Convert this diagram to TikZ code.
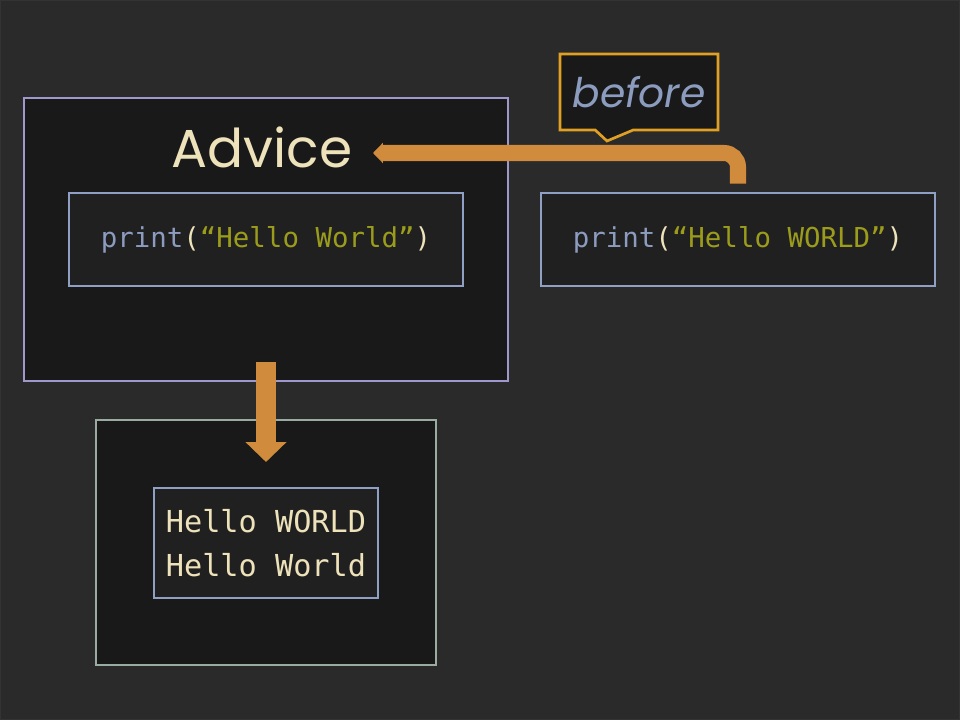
\documentclass[tikz,border=0pt]{standalone}
\usepackage{fontspec}
\setmainfont{Poppins}
\setmonofont{DejaVu Sans Mono}
\usetikzlibrary{arrows.meta,shapes.callouts}

\definecolor{bg}{HTML}{2A2A2A}
\definecolor{panel}{HTML}{191919}
\definecolor{codebg}{HTML}{202020}
\definecolor{lavender}{HTML}{9E98CC}
\definecolor{codeline}{HTML}{8FA0C4}
\definecolor{sage}{HTML}{9AAB9F}
\definecolor{amber}{HTML}{E0A024}
\definecolor{flow}{HTML}{D08C3C}
\definecolor{cream}{HTML}{EEE2BB}
\definecolor{slate}{HTML}{8C9CBF}
\definecolor{olive}{HTML}{9C9C1C}

\begin{document}
\begin{tikzpicture}[x=0.025cm, y=-0.025cm,
            box/.style={rectangle,fill=panel,line width=1.9pt,inner sep=0pt},
            code/.style={rectangle,fill=codebg,draw=codeline,line width=2pt,inner sep=0pt,
                minimum width=9.85cm,minimum height=2.325cm,
                font=\ttfamily\fontsize{19.5pt}{24pt}\selectfont},
            flowarrow/.style={draw=flow,line width=11.4pt}]
            \useasboundingbox (0,0) rectangle (960,720);
            \fill[bg] (0,0) rectangle (960,720);
            \draw[black!80,line width=1pt] (0,0) rectangle (960,720);

            \node[box,draw=lavender,minimum width=12.1cm,minimum height=7.075cm] (advice) at (266,239.5) {};
            \node[text=cream,font=\fontsize{38pt}{46pt}\selectfont] (title) at (262,147) {Advice};
            \node[code] (orig) at (266,239.5) {{\color{slate}print}{\color{cream}(}{\color{olive}“Hello World”}{\color{cream})}};

            \node[code] (wrap) at (738,239.5) {{\color{slate}print}{\color{cream}(}{\color{olive}“Hello WORLD”}{\color{cream})}};

            \node[rectangle callout,fill=panel,draw=amber,line width=1.9pt,
                minimum width=3.95cm,minimum height=1.9cm,inner sep=0pt,
                callout absolute pointer={(607,141)},callout pointer width=0.95cm,
                text=slate,font=\itshape\fontsize{29pt}{34pt}\selectfont] (when) at (639,92) {before};

            \node[box,draw=sage,minimum width=8.5cm,minimum height=6.125cm] (out) at (266,542.5) {};
            \node[code,minimum width=5.6cm,minimum height=2.75cm,text=cream,align=left,
                font=\ttfamily\fontsize{21.5pt}{31.3pt}\selectfont] (result) at (266,543) {Hello WORLD\\Hello World};

            % arrows
            \coordinate (hook) at (373,153);
            \coordinate (down1) at (266,362);
            \coordinate (down2) at (266,462);

            \draw[flowarrow,rounded corners=0.35cm,-{Triangle[length=7.1pt,width=14.2pt]}]
                ([yshift=5.7pt]wrap.north) |- (hook);
            \draw[flowarrow,line width=14.2pt,-{Triangle[length=14.2pt,width=28.4pt]}]
                (down1) to (down2);
        \end{tikzpicture}
\end{document}
